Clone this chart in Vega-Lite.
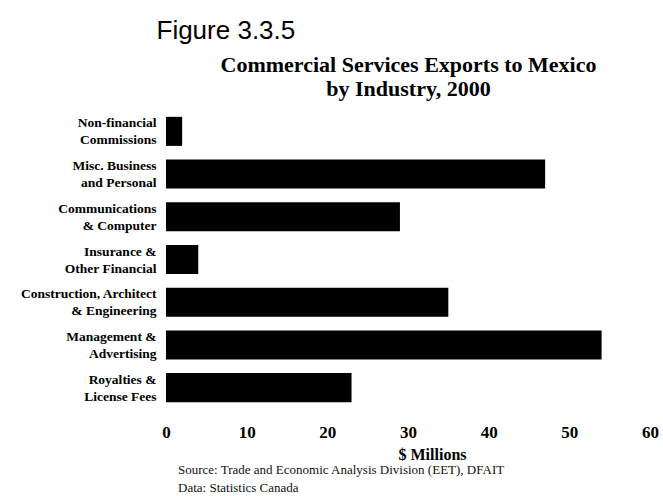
{
  "$schema": "https://vega.github.io/schema/vega-lite/v6.json",
  "autosize": {"type": "none"},
  "padding": {"left": 166, "top": 110, "right": 13, "bottom": 87},
  "width": 484,
  "height": 299,
  "background": "white",
  "data": {
    "values": [
      {"industry": "Non-financial|Commissions", "value": 2},
      {"industry": "Misc. Business|and  Personal", "value": 47},
      {"industry": "Communications|& Computer", "value": 29},
      {"industry": "Insurance &|Other Financial", "value": 4},
      {"industry": "Construction, Architect|& Engineering", "value": 35},
      {"industry": "Management &|Advertising", "value": 54},
      {"industry": "Royalties &|License Fees", "value": 23}
    ]
  },
  "title": {
    "text": ["Source: Trade and Economic Analysis Division (EET), DFAIT", "Data: Statistics Canada"],
    "orient": "bottom",
    "anchor": "start",
    "frame": "group",
    "dx": 12,
    "offset": 2,
    "font": "Liberation Serif",
    "fontSize": 13,
    "fontWeight": "normal",
    "lineHeight": 18,
    "color": "#111"
  },
  "resolve": {"axis": {"x": "independent"}},
  "layer": [
    {
      "mark": {"type": "bar", "color": "#000"},
      "encoding": {
        "y": {
          "field": "industry",
          "type": "nominal",
          "sort": null,
          "scale": {"paddingInner": 0.32, "paddingOuter": 0.16},
          "axis": {
            "title": "Figure 3.3.5",
            "titleAngle": 0,
            "titleX": -10,
            "titleY": -80,
            "titleAlign": "left",
            "titleBaseline": "middle",
            "titleFont": "Liberation Sans",
            "titleFontSize": 26,
            "titleFontWeight": "normal",
            "titleColor": "#000",
            "labelExpr": "split(datum.label, '|')",
            "labelFont": "Liberation Serif",
            "labelFontSize": 13.5,
            "labelFontWeight": "bold",
            "labelLineHeight": 17,
            "labelOffset": -8,
            "labelColor": "#000",
            "labelPadding": 10,
            "labelLimit": 300,
            "ticks": false,
            "domain": false,
            "grid": false
          }
        },
        "x": {
          "field": "value",
          "type": "quantitative",
          "scale": {"domain": [0, 60], "nice": false},
          "axis": {
            "values": [0, 10, 20, 30, 40, 50, 60],
            "title": "$ Millions",
            "titleX": 266,
            "titleY": 45,
            "titleBaseline": "middle",
            "titleFont": "Liberation Serif",
            "titleFontSize": 16,
            "titleFontWeight": "bold",
            "titleColor": "#000",
            "labelFont": "Liberation Serif",
            "labelFontSize": 17,
            "labelFontWeight": "bold",
            "labelColor": "#000",
            "labelPadding": 15,
            "labelFlush": false,
            "ticks": false,
            "domain": false,
            "grid": false
          }
        }
      }
    },
    {
      "mark": {"type": "bar", "opacity": 0},
      "encoding": {
        "y": {"field": "industry", "type": "nominal", "sort": null},
        "x": {
          "field": "value",
          "type": "quantitative",
          "axis": {
            "orient": "top",
            "title": ["Commercial Services Exports to Mexico", "by Industry, 2000"],
            "titleX": 242,
            "titleY": -46,
            "titleAlign": "center",
            "titleBaseline": "middle",
            "titleFont": "Liberation Serif",
            "titleFontSize": 22,
            "titleFontWeight": "bold",
            "titleLineHeight": 24,
            "titleColor": "#000",
            "labels": false,
            "ticks": false,
            "domain": false,
            "grid": false
          }
        }
      }
    }
  ],
  "config": {"view": {"stroke": null}}
}
